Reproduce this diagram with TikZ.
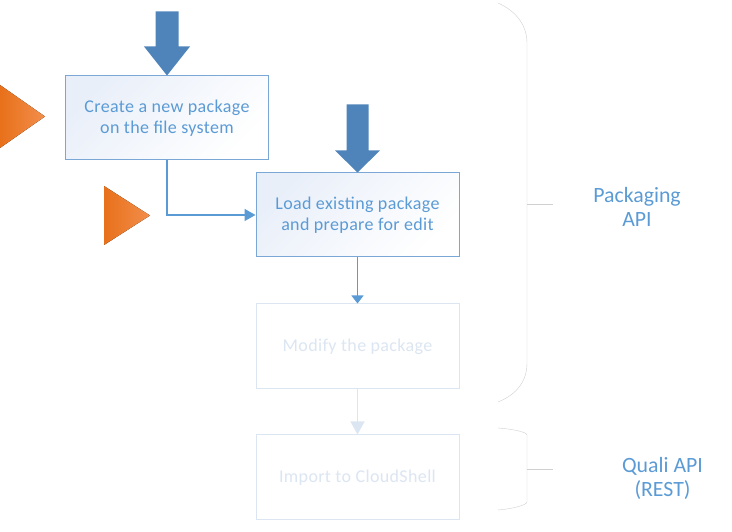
\documentclass[tikz,border=0pt]{standalone}
\usepackage{fontspec}
\setmainfont{Carlito}
\usepackage{tikz}
\usetikzlibrary{arrows, arrows.meta, positioning}
\usepackage{xcolor}
\definecolor{boxblue}{HTML}{7BA7D7}
\definecolor{textblue}{HTML}{5B9BD5}
\definecolor{bigblue}{HTML}{4E84BA}
\definecolor{paleblue}{HTML}{DCE6F2}
\definecolor{boxfill}{HTML}{E9EFF9}
\definecolor{orangedark}{HTML}{E8701A}
\definecolor{orangelight}{HTML}{F28E4C}
\definecolor{bracegray}{HTML}{D0D0D0}

\begin{document}
\begin{tikzpicture}
[x = 1pt, y = 1pt, auto = left,
 stepbox/.style = {rectangle, draw=boxblue, line width=1pt, top color=boxfill, bottom color=white, shading angle=45,
   minimum width=203pt, minimum height=84pt, align=center, text=textblue,
   font=\fontsize{18}{21}\selectfont\addfontfeatures{LetterSpace=2}},
 fadebox/.style = {rectangle, draw=paleblue, line width=1pt, fill=white,
   minimum width=203pt, minimum height=85pt, align=center, text=paleblue,
   font=\fontsize{18}{21}\selectfont\addfontfeatures{LetterSpace=2}},
 apilabel/.style = {align=center, text=textblue, font=\fontsize{21.8}{24}\selectfont}]
\useasboundingbox (0,0) rectangle (732,532);

\node[stepbox] (n1) at (167,414) {Create a new package\\on the file system};
\node[stepbox] (n2) at (357.5,317) {Load existing package\\and prepare for edit};
\node[fadebox] (n3) at (357.5,185.5) {Modify the package};
\node[fadebox] (n4) at (357.5,54.5) {Import to CloudShell};
\node[apilabel] (n5) at (637,325) {Packaging\\API};
\node[apilabel] (n6) at (662.5,54) {Quali API\\(REST)};

% connectors
\draw[textblue, line width=1.5pt, -{Triangle[length=11pt, width=12pt]}] (n1.south) |- (n2.west);
\draw[textblue, line width=1.5pt, -{Triangle[length=8pt, width=12pt]}] (n2.south) -- (n3.north);
\draw[paleblue, line width=1.5pt, -{Triangle[length=13pt, width=14pt]}] (n3.south) -- (n4.north);

% big arrows
\fill[bigblue] (n1.north) -- ++(23,29) -- ++(-11.5,0) -- ++(0,35) -- ++(-23,0) -- ++(0,-35) -- ++(-11.5,0) -- cycle;
\fill[bigblue] (n2.north) -- ++(22.5,22) -- ++(-11.5,0) -- ++(0,46) -- ++(-22,0) -- ++(0,-46) -- ++(-11.5,0) -- cycle;

% orange markers
\fill[left color=orangedark, right color=orangelight] (0,447) -- (45,415.5) -- (0,384) -- cycle;
\fill[left color=orangedark, right color=orangelight] (104,346) -- (150,316.5) -- (104,287) -- cycle;

% braces
\draw[bracegray] (498,529) .. controls (518,520) and (527,505) .. (527,489) -- (527,169)
  .. controls (527,152) and (518,138) .. (498,130);
\draw[bracegray] (527,328) -- (553,328);
\draw[bracegray] (498,104) .. controls (512,103) and (527,100) .. (527,97) -- (527,30)
  .. controls (527,27) and (512,23) .. (498,22);
\draw[bracegray] (527,63) -- (553,63);

\end{tikzpicture}
\end{document}
